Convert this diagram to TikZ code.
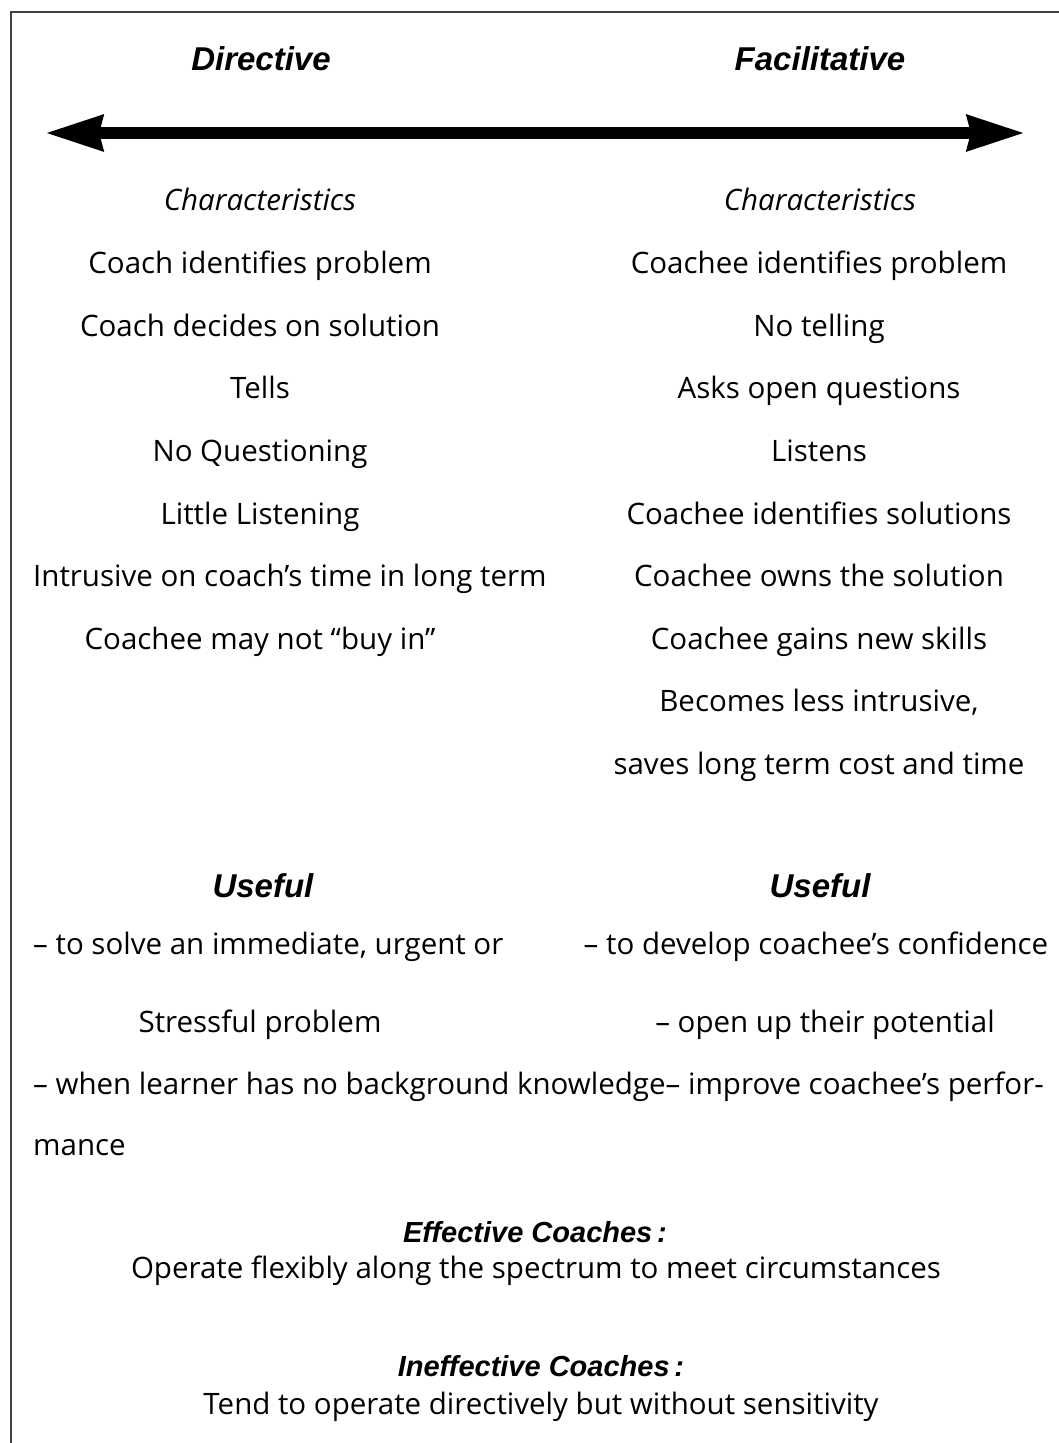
\documentclass[tikz,border=0pt]{standalone}
\usepackage{fontspec}
\setmainfont{Open Sans}
\newfontfamily\headfont{Liberation Sans}
\usetikzlibrary{arrows.meta}
\tikzset{
  heading/.style={font=\headfont\bfseries\itshape\fontsize{33}{39}\selectfont, anchor=base, inner sep=0pt},
  subhead/.style={font=\itshape\fontsize{29.5}{35}\selectfont, anchor=base, inner sep=0pt},
  boldsub/.style={font=\headfont\bfseries\itshape\fontsize{29}{34}\selectfont, anchor=base, inner sep=0pt},
  itemtext/.style={font=\fontsize{29.5}{35}\selectfont, anchor=base, inner sep=0pt},
  spectip/.tip={Stealth[length=57pt,width=34pt,inset=3pt]},
}
\begin{document}
\begin{tikzpicture}[x=1pt,y=-1pt]
\useasboundingbox (0,0) rectangle (1058,1443);
% frame
\draw[line width=2pt, black!75] (1075,12) -- (11,12) -- (11,1460);

% spectrum
\node[heading] (dir) at (261,70) {Directive};
\node[heading] (fac) at (820,70) {Facilitative};
\coordinate (dirend) at (45,133);
\coordinate (facend) at (1025,133);
\draw[line width=12pt, spectip-spectip] (dirend) -- (facend);

% characteristics, directive side
\node[subhead] (dirchar) at (260,210) {Characteristics};
\node[itemtext] (d1) at (260,273) {Coach identifies problem};
\node[itemtext] (d2) at (260,336) {Coach decides on solution};
\node[itemtext] (d3) at (260,398) {Tells};
\node[itemtext] (d4) at (260,461) {No Questioning};
\node[itemtext] (d5) at (260,524) {Little Listening};
\node[itemtext, anchor=base west] (d6) at (33,586) {Intrusive on coach’s time in long term};
\node[itemtext] (d7) at (260,649) {Coachee may not “buy in”};

% characteristics, facilitative side
\node[subhead] (facchar) at (820,210) {Characteristics};
\node[itemtext] (f1) at (819,273) {Coachee identifies problem};
\node[itemtext] (f2) at (819,336) {No telling};
\node[itemtext] (f3) at (819,398) {Asks open questions};
\node[itemtext] (f4) at (819,461) {Listens};
\node[itemtext] (f5) at (819,524) {Coachee identifies solutions};
\node[itemtext] (f6) at (819,586) {Coachee owns the solution};
\node[itemtext] (f7) at (819,649) {Coachee gains new skills};
\node[itemtext] (f8) at (819,711) {Becomes less intrusive,};
\node[itemtext] (f9) at (819,774) {saves long term cost and time};

% useful
\node[heading] (diruse) at (263,897) {Useful};
\node[heading] (facuse) at (820,897) {Useful};
\node[itemtext, anchor=base west] (du1) at (33,954) {– to solve an immediate, urgent or};
\node[itemtext] (fu1) at (816,954) {– to develop coachee’s confidence};
\node[itemtext] (du2) at (260,1032) {Stressful problem};
\node[itemtext] (fu2) at (825,1032) {– open up their potential};
\node[itemtext, anchor=base west] (both) at (33,1094) {– when learner has no background knowledge– improve coachee’s perfor-};
\node[itemtext, anchor=base west] (mance) at (33,1155) {mance};

% coaches
\node[boldsub] (eff) at (535,1242) {Effective Coaches\,:};
\node[itemtext] (effx) at (536,1278) {Operate flexibly along the spectrum to meet circumstances};
\node[boldsub] (ineff) at (541,1376) {Ineffective Coaches\,:};
\node[itemtext] (ineffx) at (541,1414) {Tend to operate directively but without sensitivity};
\end{tikzpicture}
\end{document}
